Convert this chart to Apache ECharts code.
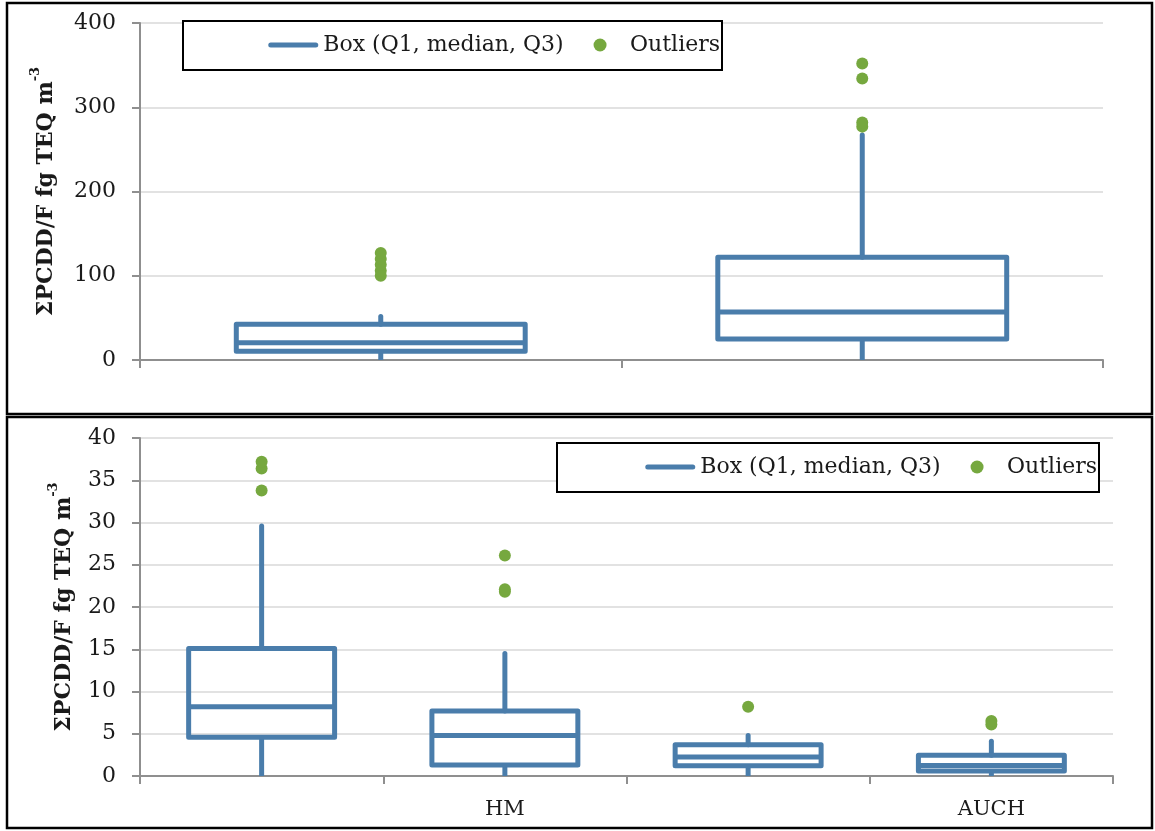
<!DOCTYPE html>
<html>
<head>
<meta charset="utf-8">
<script src="https://cdn.jsdelivr.net/npm/echarts@6/dist/echarts.min.js"></script>
<style>
  html, body { margin: 0; padding: 0; background: #fff; }
  #chart { width: 1155px; height: 831px; }
</style>
</head>
<body>
<div id="chart"></div>
<script>
// ---- data ----
// upper panel: two groups (no category labels)
const topCategories = ['', ''];
// [category index, whisker low, Q1, median, Q3, whisker high]
const topBoxes = [
  [0, 0, 10.5, 20.5, 42.5, 51.5],
  [1, 0, 25, 57, 122, 267]
];
const topOutliers = [
  [0, 100], [0, 106], [0, 113], [0, 120], [0, 127],
  [1, 277], [1, 282], [1, 334], [1, 352]
];
const topTicks = { min: 0, max: 400, interval: 100 };

// lower panel: four groups
const bottomCategories = ['', 'HM', '', 'AUCH'];
const bottomBoxes = [
  [0, 0, 4.6, 8.2, 15.1, 29.6],
  [1, 0, 1.3, 4.8, 7.7, 14.5],
  [2, 0, 1.2, 2.25, 3.7, 4.8],
  [3, 0, 0.6, 1.25, 2.45, 4.1]
];
const bottomOutliers = [
  [0, 33.8], [0, 36.4], [0, 37.2],
  [1, 21.8], [1, 22.1], [1, 26.1],
  [2, 8.2],
  [3, 6.1], [3, 6.5]
];
const bottomTicks = { min: 0, max: 40, interval: 5 };

const boxName = 'Box (Q1, median, Q3)';
const outlierName = 'Outliers';

// ---- styles ----
const BLUE = '#4a7dab';
const GREEN = '#76a83f';
const FONT = 'DejaVu Serif';
const TEXT = '#1a1a1a';

// whiskers, Q1–Q3 box and median line, positioned through the axes
function renderBox(params, api) {
  const x = api.value(0);
  const lo = api.coord([x, api.value(1)]);
  const q1 = api.coord([x, api.value(2)]);
  const md = api.coord([x, api.value(3)]);
  const q3 = api.coord([x, api.value(4)]);
  const hi = api.coord([x, api.value(5)]);
  const half = api.size([1, 0])[0] * 0.3;
  const cx = q1[0];
  const lw = 5;
  return {
    type: 'group',
    children: [
      { type: 'line', shape: { x1: cx, y1: lo[1], x2: cx, y2: q1[1] },
        style: { stroke: BLUE, lineWidth: lw, lineCap: 'butt' } },
      { type: 'line', shape: { x1: cx, y1: q3[1], x2: cx, y2: hi[1] },
        style: { stroke: BLUE, lineWidth: lw, lineCap: 'round' } },
      { type: 'rect', shape: { x: cx - half, y: q3[1], width: half * 2, height: q1[1] - q3[1] },
        style: { stroke: BLUE, fill: 'none', lineWidth: lw, lineJoin: 'round' } },
      { type: 'line', shape: { x1: cx - half, y1: md[1], x2: cx + half, y2: md[1] },
        style: { stroke: BLUE, lineWidth: lw } }
    ]
  };
}

const axisName = '{a|ΣPCDD/F fg TEQ m}{s|-3}';
function yAxisFor(grid, ticks, gap) {
  return {
    type: 'value', gridIndex: grid,
    min: ticks.min, max: ticks.max, interval: ticks.interval,
    name: axisName, nameLocation: 'middle', nameGap: gap,
    nameTextStyle: {
      rich: {
        a: { fontFamily: FONT, fontWeight: 'bold', fontSize: 22, color: TEXT, lineHeight: 28, verticalAlign: 'bottom' },
        s: { fontFamily: FONT, fontWeight: 'bold', fontSize: 13, color: TEXT, lineHeight: 14, verticalAlign: 'top' }
      }
    },
    axisLine: { show: true, lineStyle: { color: '#8f8f8f', width: 2 } },
    axisTick: { show: true, length: 8, lineStyle: { color: '#8f8f8f', width: 2 } },
    axisLabel: { margin: 24, fontFamily: FONT, fontSize: 22, color: TEXT },
    splitLine: { show: true, lineStyle: { color: '#e2e2e2', width: 2 } }
  };
}
function xAxisFor(grid, cats) {
  return {
    type: 'category', gridIndex: grid, data: cats,
    axisLine: { lineStyle: { color: '#8f8f8f', width: 2 } },
    axisTick: { show: true, length: 8, interval: 0, lineStyle: { color: '#8f8f8f', width: 2 } },
    axisLabel: { interval: 0, margin: 23, fontFamily: FONT, fontSize: 21, color: TEXT },
    splitLine: { show: false }
  };
}

const legendCommon = {
  orient: 'horizontal',
  selectedMode: false,
  padding: 0,
  itemWidth: 50,
  itemHeight: 13,
  itemGap: 30,
  z: 10,
  textStyle: { fontFamily: FONT, fontSize: 22, color: TEXT, lineHeight: 24 },
  data: [
    { name: boxName, icon: 'path://M2.5 0H47.5A2.5 2.5 0 0 1 47.5 5H2.5A2.5 2.5 0 0 1 2.5 0Z', itemStyle: { color: BLUE } },
    { name: outlierName, icon: 'circle', itemStyle: { color: GREEN } }
  ]
};

const chart = echarts.init(document.getElementById('chart'), null, { renderer: 'canvas' });
chart.setOption({
  backgroundColor: '#ffffff',
  animation: false,
  grid: [
    { left: 140, right: 52, top: 23, height: 337 },
    { left: 140, right: 42, top: 438, height: 338 }
  ],
  xAxis: [xAxisFor(0, topCategories), xAxisFor(1, bottomCategories)],
  yAxis: [yAxisFor(0, topTicks, 83), yAxisFor(1, bottomTicks, 65)],
  legend: [
    Object.assign({}, legendCommon, { right: 435, top: 33 }),
    Object.assign({}, legendCommon, { right: 58, top: 455 })
  ],
  graphic: [
    { type: 'rect', shape: { x: 7, y: 3, width: 1145, height: 411 }, style: { fill: 'none', stroke: '#000', lineWidth: 2.5 }, silent: true, z: 0 },
    { type: 'rect', shape: { x: 7, y: 417, width: 1145, height: 411 }, style: { fill: 'none', stroke: '#000', lineWidth: 2.5 }, silent: true, z: 0 },
    { type: 'rect', shape: { x: 183, y: 21, width: 539, height: 49 }, style: { fill: '#fff', stroke: '#000', lineWidth: 2 }, silent: true, z: 1 },
    { type: 'rect', shape: { x: 557, y: 443, width: 542, height: 49 }, style: { fill: '#fff', stroke: '#000', lineWidth: 2 }, silent: true, z: 1 }
  ],
  series: [
    { name: boxName, type: 'custom', xAxisIndex: 0, yAxisIndex: 0, renderItem: renderBox,
      itemStyle: { color: BLUE }, encode: { x: 0, y: [1, 2, 3, 4, 5] }, data: topBoxes, z: 3 },
    { name: outlierName, type: 'scatter', xAxisIndex: 0, yAxisIndex: 0, symbol: 'circle', symbolSize: 12,
      itemStyle: { color: GREEN, opacity: 1 }, data: topOutliers, z: 4 },
    { name: boxName, type: 'custom', xAxisIndex: 1, yAxisIndex: 1, renderItem: renderBox,
      itemStyle: { color: BLUE }, encode: { x: 0, y: [1, 2, 3, 4, 5] }, data: bottomBoxes, z: 3 },
    { name: outlierName, type: 'scatter', xAxisIndex: 1, yAxisIndex: 1, symbol: 'circle', symbolSize: 12,
      itemStyle: { color: GREEN, opacity: 1 }, data: bottomOutliers, z: 4 }
  ]
});
</script>
</body>
</html>
